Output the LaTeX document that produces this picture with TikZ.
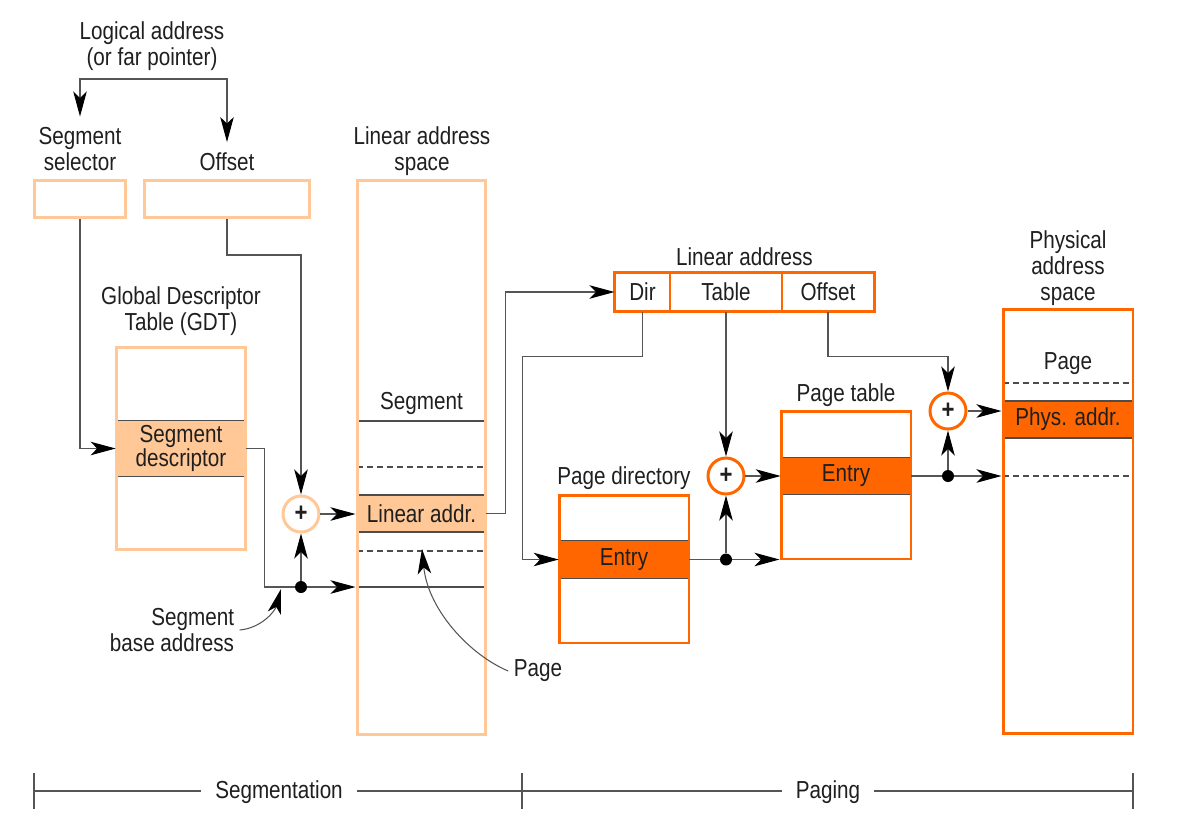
\documentclass[tikz,border=0pt]{standalone}
\usepackage{fontspec}
\setmainfont{Liberation Sans}[FakeStretch=0.84]
\usetikzlibrary{arrows.meta,positioning,fit}

\definecolor{paleorange}{RGB}{255,200,150}
\definecolor{deeporange}{RGB}{255,102,0}
\definecolor{wiregray}{RGB}{85,85,85}

\begin{document}
\begin{tikzpicture}[
    x=0.02cm, y=-0.02cm,
    font=\fontsize{14}{14.7}\selectfont, text=black!88,
    caption/.style={align=center, inner sep=3pt},
    field/.style={rectangle, draw=paleorange, line width=1.7pt, inner sep=0pt},
    mem/.style={rectangle, draw=deeporange, line width=1.7pt, inner sep=0pt},
    band/.style={rectangle, inner sep=0pt, align=center, minimum width=2.6cm},
    cell/.style={rectangle, draw=deeporange, line width=0.6pt, inner sep=0pt, minimum height=0.76cm},
    adder/.style={circle, line width=1.7pt, fill=white, minimum size=0.72cm, inner sep=0pt, font=\fontsize{15}{15}\selectfont\bfseries},
    junction/.style={circle, fill=black, minimum size=0.24cm, inner sep=0pt},
    wire/.style={line width=0.6pt, draw=wiregray},
    arr/.style={wire, -{Stealth[length=5mm, width=2.7mm, inset=1.3mm, color=black]}},
    rowline/.style={line width=0.6pt, draw=black!70},
    dashrow/.style={rowline, dash pattern=on 3.4pt off 2.3pt}
]
\useasboundingbox (0,0) rectangle (1187,829);

% logical address
\node[caption] (logic) at (152,46) {Logical address\\(or far pointer)};
\coordinate (fork) at (152,79);
\node[caption] (selname) at (80,149) {Segment\\selector};
\node[caption] (offname) at (227,162) {Offset};
\node[field, minimum width=1.84cm, minimum height=0.74cm] (sel) at (80,199) {};
\node[field, minimum width=3.32cm, minimum height=0.74cm] (off) at (227,199) {};
\draw[arr] (fork) -| ([yshift=3pt]selname.north);
\draw[arr] (fork) -| ([yshift=3pt]offname.north);

% descriptor table
\node[caption] (gdtname) at (181,311) {Global Descriptor\\Table (GDT)};
\node[band, fill=paleorange, minimum height=1.1cm, font=\fontsize{14}{12.5}\selectfont] (desc) at (181,448.5) {Segment\\descriptor};
\draw[rowline] (desc.north west) -- (desc.north east);
\draw[rowline] (desc.south west) -- (desc.south east);
\node[field, minimum width=2.6cm, minimum height=4.06cm] (gdt) at (181,448.5) {};
\draw[arr] (sel.south) |- (desc.west);

% linear address space
\node[caption] (lasname) at (422,151) {Linear address\\space};
\node[band, fill=paleorange, minimum width=2.58cm, minimum height=0.76cm] (lin) at (421.5,513.5) {Linear addr.};
\foreach \y in {421,495,532,587} \draw[rowline] (357,\y) -- (486,\y);
\foreach \y in {467,551} \draw[dashrow] (357,\y) -- (486,\y);
\node[field, minimum width=2.58cm, minimum height=11.1cm] (las) at (421.5,457.5) {};
\node (segname) at (421.5,403) {Segment};

\node[adder, draw=paleorange] (add1) at (301,514) {+};
\node[junction] (base) at (301,587) {};
\draw[arr] (off.south) -- ++(0,36) -| (add1.north);
\draw[wire] (desc.east) -- ++(18,0) |- (base);
\draw[arr] (base) -- (base -| las.west);
\draw[arr] (base) -- (add1.south);
\draw[arr] (add1) -- (add1 -| las.west);

\node[caption, align=right] (basename) at (172,630) {Segment\\base address};
\coordinate (basetip) at (281,589);
\draw[arr] (basename.east) .. controls +(22,-2) and +(-6,22) .. (basetip);

\node[caption] (pagename) at (538,671) {Page};
\coordinate (pagetip) at (422,549);
\draw[arr] (pagename.west) .. controls (470,655) and (428,610) .. (pagetip);

% linear address fields
\node[cell, minimum width=1.1cm] (dir) at (642.5,292) {Dir};
\node[cell, minimum width=2.24cm] (tab) at (726,292) {Table};
\node[cell, minimum width=1.84cm] (offs) at (828,292) {Offset};
\node[mem, fit=(dir)(offs)] (la) {};
\node[caption, above=0pt of la] (laname) {Linear address};
\draw[arr] (lin.east) -- ++(19,0) |- (dir.west);

% page directory
\node[caption] (pdname) at (624,478) {Page directory};
\node[band, fill=deeporange, minimum height=0.74cm] (pdent) at (624,559.5) {Entry};
\draw[rowline] (pdent.north west) -- (pdent.north east);
\draw[rowline] (pdent.south west) -- (pdent.south east);
\node[mem, minimum width=2.6cm, minimum height=2.96cm] (pd) at (624,569) {};
\draw[arr] (dir.south) |- ++(-120,45) |- (pdent.west);

% page table
\node[caption] (ptname) at (846,395) {Page table};
\node[band, fill=deeporange, minimum height=0.72cm] (ptent) at (846,476) {Entry};
\draw[rowline] (ptent.north west) -- (ptent.north east);
\draw[rowline] (ptent.south west) -- (ptent.south east);
\node[mem, minimum width=2.6cm, minimum height=2.96cm] (pt) at (846,485) {};

\node[adder, draw=deeporange] (add2) at (726,476) {+};
\node[junction] (j2) at (726,559.5) {};
\draw[arr] (tab.south) -- (add2.north);
\draw[wire] (pdent.east) -- (j2);
\draw[arr] (j2) -- (j2 -| pt.west);
\draw[arr] (j2) -- (add2.south);
\draw[arr] (add2) -- (ptent.west);

% physical address space
\node[caption] (physname) at (1068,268) {Physical\\address\\space};
\node[band, fill=deeporange, minimum height=0.74cm] (pa) at (1068,419.5) {Phys. addr.};
\foreach \y in {401,438} \draw[rowline] (1003,\y) -- (1133,\y);
\foreach \y in {383,476} \draw[dashrow] (1003,\y) -- (1133,\y);
\node[mem, minimum width=2.6cm, minimum height=8.5cm] (phys) at (1068,521.5) {};
\node (pgname) at (1068,364) {Page};

\node[adder, draw=deeporange] (add3) at (948,411) {+};
\node[junction] (j3) at (948,476) {};
\draw[arr] (offs.south) -- ++(0,45) -| (add3.north);
\draw[wire] (ptent.east) -- (j3);
\draw[arr] (j3) -- (j3 -| phys.west);
\draw[arr] (j3) -- (add3.south);
\draw[arr] (add3) -- (add3 -| phys.west);

% scale bar
\draw[wire] (34,791) -- (1133,791);
\foreach \x in {34,522,1133} \draw[wire] (\x,773) -- (\x,809);
\node[caption, fill=white, inner xsep=8pt] (segtxt) at (279,792) {Segmentation};
\node[caption, fill=white, inner xsep=8pt] (pagtxt) at (828,792) {Paging};
\end{tikzpicture}
\end{document}
